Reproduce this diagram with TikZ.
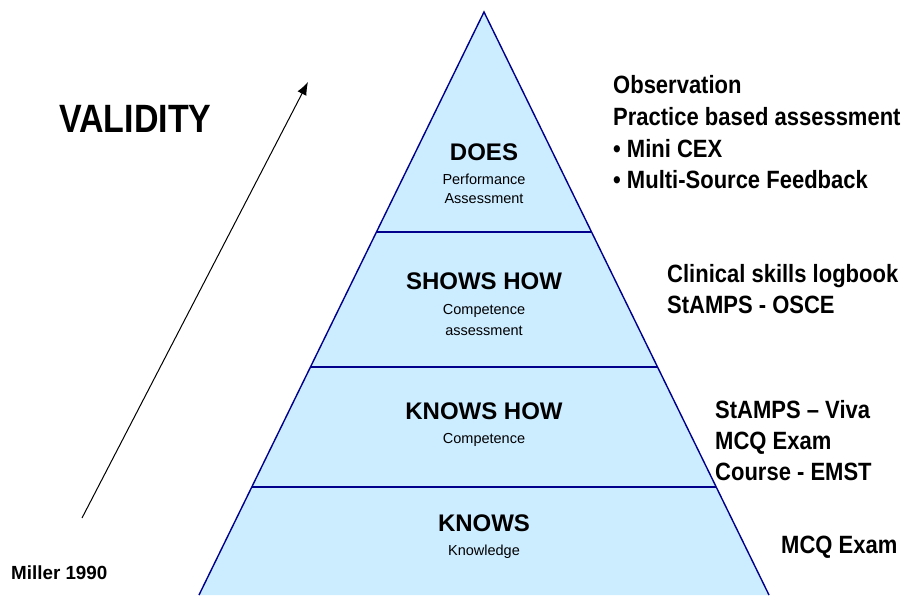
\documentclass[tikz,border=0pt]{standalone}
\usepackage{fontspec}
\setmainfont{Liberation Sans}
\usetikzlibrary{arrows.meta}
\definecolor{pyrfill}{RGB}{204,236,255}
\definecolor{pyrline}{RGB}{0,0,140}
\tikzset{
  band/.style={draw=pyrline, line width=1.4pt},
  level/.style={anchor=base, inner sep=0pt, font=\fontsize{24}{24}\selectfont\bfseries},
  sublevel/.style={anchor=base, inner sep=0pt, font=\fontsize{14.5}{14.5}\selectfont},
  side/.style={anchor=base west, inner sep=0pt, font=\fontsize{25}{25}\selectfont\bfseries},
}
\newcommand{\sq}[1]{\scalebox{0.88}[1]{#1}}
\begin{document}
\begin{tikzpicture}[x=1pt,y=-1pt]
\path[use as bounding box] (0,0) rectangle (903,595);
% pyramid
\coordinate (apex) at (484,12);
\coordinate (bl) at (199,595);
\coordinate (br) at (769,595);
\fill[pyrfill] (apex) -- (bl) -- (br) -- cycle;
\draw[band] (bl) -- (apex) -- (br);
\coordinate (l1) at (376.5,232); \coordinate (r1) at (591.5,232);
\coordinate (l2) at (310.5,367); \coordinate (r2) at (657.5,367);
\coordinate (l3) at (251.8,487); \coordinate (r3) at (716.2,487);
\draw[band] (l1) -- (r1);
\draw[band] (l2) -- (r2);
\draw[band] (l3) -- (r3);
% level labels
\node[level] (does) at (484,160) {DOES};
\node[sublevel] (perf) at (484,184) {Performance};
\node[sublevel] (perf2) at (484,203) {Assessment};
\node[level] (shows) at (484,289) {SHOWS HOW};
\node[sublevel] (comp1) at (484,314) {Competence};
\node[sublevel] (comp2) at (484,335) {assessment};
\node[level] (knowshow) at (484,419) {KNOWS HOW};
\node[sublevel] (comp3) at (484,443) {Competence};
\node[level] (knows) at (484,531) {KNOWS};
\node[sublevel] (know) at (484,555) {Knowledge};
% validity
\node[anchor=base west, inner sep=0pt, font=\fontsize{39.5}{39.5}\selectfont\bfseries] (validity) at (59,132) {\scalebox{0.86}[1]{VALIDITY}};
\coordinate (atail) at (82,518);
\coordinate (atip) at (308,82);
\draw[line width=1pt, -{Latex[length=13pt,width=10pt]}] (atail) -- (atip);
\node[anchor=base west, inner sep=0pt, font=\fontsize{19}{19}\selectfont\bfseries] (miller) at (11,579) {\scalebox{0.99}[1]{Miller 1990}};
% side texts
\node[side] (s1) at (613,93) {\sq{Observation}};
\node[side] (s2) at (613,125) {\sq{Practice based assessment}};
\node[side] (s3) at (613,157) {\sq{• Mini CEX}};
\node[side] (s4) at (613,188) {\sq{• Multi-Source Feedback}};
\node[side] (s5) at (667,282) {\sq{Clinical skills logbook}};
\node[side] (s6) at (667,313) {\sq{StAMPS - OSCE}};
\node[side] (s7) at (715,418) {\sq{StAMPS – Viva}};
\node[side] (s8) at (715,449) {\sq{MCQ Exam}};
\node[side] (s9) at (715,480) {\sq{Course - EMST}};
\node[side] (s10) at (781,553) {\sq{MCQ Exam}};
\end{tikzpicture}
\end{document}
